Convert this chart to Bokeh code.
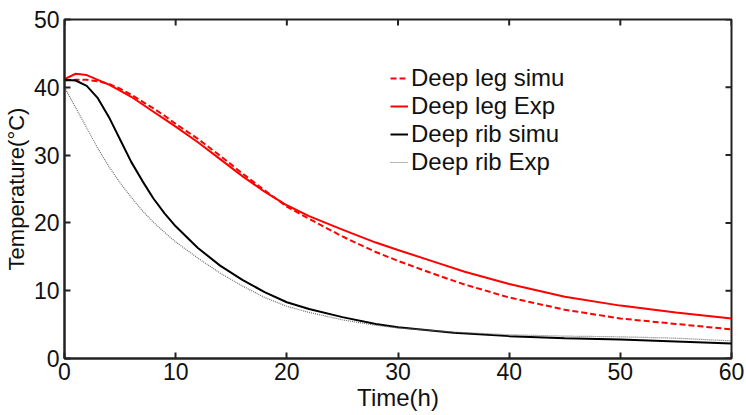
import math
from bokeh.plotting import figure
from bokeh.models import Range1d, Legend, LegendItem, FixedTicker
from bokeh.embed import file_html
from bokeh.resources import INLINE

# Deep leg simu (red dashed)
leg_simu_t = [0, 1, 2, 3, 4, 5, 6, 7, 8, 9, 10, 12, 14, 16, 18, 20, 22, 25, 28, 30, 33, 36, 40, 45, 50, 55, 60]
leg_simu_T = [41.0, 41.1, 41.1, 40.9, 40.5, 39.8, 38.9, 37.9, 36.9, 35.8, 34.6, 32.4, 29.9, 27.3, 24.8, 22.4,
              20.6, 18.0, 15.7, 14.4, 12.6, 10.9, 9.0, 7.2, 5.9, 5.1, 4.3]

# Deep leg Exp (red solid)
leg_exp_t = [0, 1, 2, 3, 4, 5, 6, 7, 8, 9, 10, 12, 14, 16, 18, 20, 22, 25, 28, 30, 33, 36, 40, 45, 50, 55, 60]
leg_exp_T = [41.2, 42.0, 41.8, 41.1, 40.4, 39.5, 38.6, 37.5, 36.4, 35.3, 34.2, 31.9, 29.4, 26.9, 24.6, 22.6,
             21.0, 19.0, 17.1, 16.0, 14.4, 12.8, 11.0, 9.1, 7.8, 6.8, 5.9]

# Deep rib simu (black solid)
rib_simu_t = [0, 1, 2, 3, 4, 5, 6, 7, 8, 9, 10, 12, 14, 16, 18, 20, 22, 25, 28, 30, 35, 40, 45, 50, 55, 60]
rib_simu_T = [41.1, 41.0, 40.2, 38.4, 35.6, 32.3, 29.0, 26.2, 23.6, 21.4, 19.5, 16.3, 13.7, 11.6, 9.8, 8.3,
              7.3, 6.1, 5.1, 4.6, 3.8, 3.3, 3.0, 2.8, 2.5, 2.2]

# Deep rib Exp (grey dotted)
rib_exp_t = [0, 1, 2, 3, 4, 5, 6, 7, 8, 9, 10, 12, 14, 16, 18, 20, 22, 25, 28, 30, 35, 40, 45, 50, 55, 60]
rib_exp_T = [40.0, 37.0, 34.0, 31.0, 28.3, 25.9, 23.8, 21.8, 20.1, 18.6, 17.2, 14.8, 12.6, 10.7, 9.0, 7.7,
             6.8, 5.7, 4.9, 4.5, 3.9, 3.5, 3.3, 3.2, 3.0, 2.6]

x_ticks = [0, 10, 20, 30, 40, 50, 60]
y_ticks = [0, 10, 20, 30, 40, 50]
x_min, x_max = 0, 60
y_min, y_max = 0, 50

FONT = "Liberation Sans"
FS = "23px"
AX = "#222222"

p = figure(width=746, height=415, output_backend="svg", toolbar_location=None,
           x_range=Range1d(x_min, x_max), y_range=Range1d(y_min, y_max),
           min_border_left=63, min_border_right=15, min_border_top=19, min_border_bottom=57)
p.xgrid.visible = False
p.ygrid.visible = False
p.outline_line_color = AX
p.outline_line_width = 2

xa = p.xaxis[0]
xa.ticker = FixedTicker(ticks=x_ticks)
ya = p.yaxis[0]
ya.ticker = FixedTicker(ticks=y_ticks)
for ax in (xa, ya):
    ax.major_tick_in = 6
    ax.major_tick_out = 0
    ax.minor_tick_line_color = None
    ax.axis_line_color = AX
    ax.axis_line_width = 2
    ax.major_tick_line_color = AX
    ax.major_tick_line_width = 2
    ax.major_label_text_font = FONT
    ax.major_label_text_font_size = FS
    ax.major_label_text_color = "#111111"
    ax.axis_label_text_font = FONT
    ax.axis_label_text_font_size = FS
    ax.axis_label_text_font_style = "normal"
    ax.axis_label_text_color = "#111111"
xa.axis_label = "Time(h)"
ya.axis_label = "Temperature(°C)"
xa.axis_label_text_font_size = "24px"
ya.axis_label_text_font_size = "22px"
xa.major_label_standoff = 4
xa.axis_label_standoff = 1
ya.major_label_standoff = 5
ya.axis_label_standoff = 2

# inward ticks on the top and right frame edges (markers are clipped to the frame)
p.scatter(x=x_ticks, y=[y_max] * len(x_ticks), marker="dash", angle=math.pi / 2,
          size=12, line_color=AX, line_width=2)
p.scatter(x=[x_max] * len(y_ticks), y=y_ticks, marker="dash",
          size=12, line_color=AX, line_width=2)

r1 = p.line(leg_simu_t, leg_simu_T, line_color="#ff0000", line_width=2, line_dash="6 3")
r2 = p.line(leg_exp_t, leg_exp_T, line_color="#ff0000", line_width=2)
r3 = p.line(rib_simu_t, rib_simu_T, line_color="#000000", line_width=2)
r4 = p.line(rib_exp_t, rib_exp_T, line_color="#707070", line_width=1.2, line_dash="1 1")

legend = Legend(items=[
    LegendItem(label="Deep leg simu", renderers=[r1]),
    LegendItem(label="Deep leg Exp", renderers=[r2]),
    LegendItem(label="Deep rib simu", renderers=[r3]),
    LegendItem(label="Deep rib Exp", renderers=[r4]),
], location=(326, 182))
legend.border_line_color = None
legend.background_fill_alpha = 0
legend.padding = 0
legend.margin = 0
legend.spacing = 0
legend.glyph_width = 18
legend.glyph_height = 22
legend.label_height = 22
legend.label_standoff = 3
legend.label_text_font = FONT
legend.label_text_font_size = "24px"
legend.label_text_color = "#111111"
p.add_layout(legend)

open("out.html", "w").write(file_html(p, INLINE))
